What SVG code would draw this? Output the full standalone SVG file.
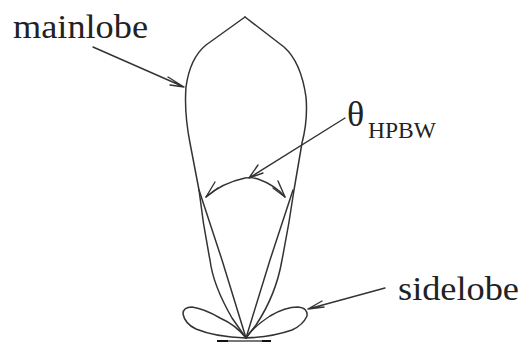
<svg xmlns="http://www.w3.org/2000/svg" width="520" height="342" viewBox="0 0 520 342">
<defs>
<style>
.l{fill:none;stroke:#333;stroke-width:1.5;stroke-linejoin:round;stroke-linecap:round}
.a{fill:none;stroke:#333;stroke-width:1.4;stroke-linecap:round;stroke-linejoin:round}
text{font-family:"Liberation Serif","Times New Roman",serif;fill:#222}
</style>
</defs>
<rect width="520" height="342" fill="#fff"/>
<g id="connectors">
<path class="a" d="M93 47L184 87M168 77L184 87L170 85"/>
<path class="a" d="M345 118L249 178M258 165L249 178L263 173"/>
<path class="a" d="M385 288L308 309M322 301L308 309L324 307"/>
<path class="a" d="M206 197Q222 183 245 178Q252 177 258 179Q275 185 285 197"/>
<path class="a" d="M215 182L206 197L218 188M278 181L285 197L273 188"/>
</g>
<g id="mainlobe">
<path class="l" d="M245 17L206 45Q190 58 186 87Q184 112 190 143L199 190Q203 225 210 260Q213 285 232 318L246 338"/>
<path class="l" d="M245 17L284 47Q301 62 306 97Q308 120 302 143L294 190Q289 225 282 260Q276 295 256 325L246 338"/>
<path class="l" d="M199 190L222 260L246 338"/>
<path class="l" d="M293 190L270 260L246 338"/>
</g>
<g id="sidelobes">
<path class="l" d="M246 338Q236 325 220 318Q205 309 192 307Q183 307 183 314Q185 324 196 329Q215 337 246 338Z"/>
<path class="l" d="M246 338Q252 328 270 316Q285 307 298 307Q308 308 307 316Q303 325 292 330Q272 337 246 338Z"/>
</g>
<g id="baseline">
<rect x="217" y="340" width="11" height="2" fill="#111"/>
<rect x="228" y="340" width="34" height="2" fill="#777"/>
<rect x="262" y="340" width="9" height="2" fill="#111"/>
</g>
<g id="labels">
<text x="13" y="38" font-size="33" textLength="135" lengthAdjust="spacingAndGlyphs">mainlobe</text>
<text x="398" y="300" font-size="33" textLength="121" lengthAdjust="spacingAndGlyphs">sidelobe</text>
<text x="347" y="126" font-size="36">θ</text>
<text x="368" y="138" font-size="23.5">HPBW</text>
</g>
</svg>
